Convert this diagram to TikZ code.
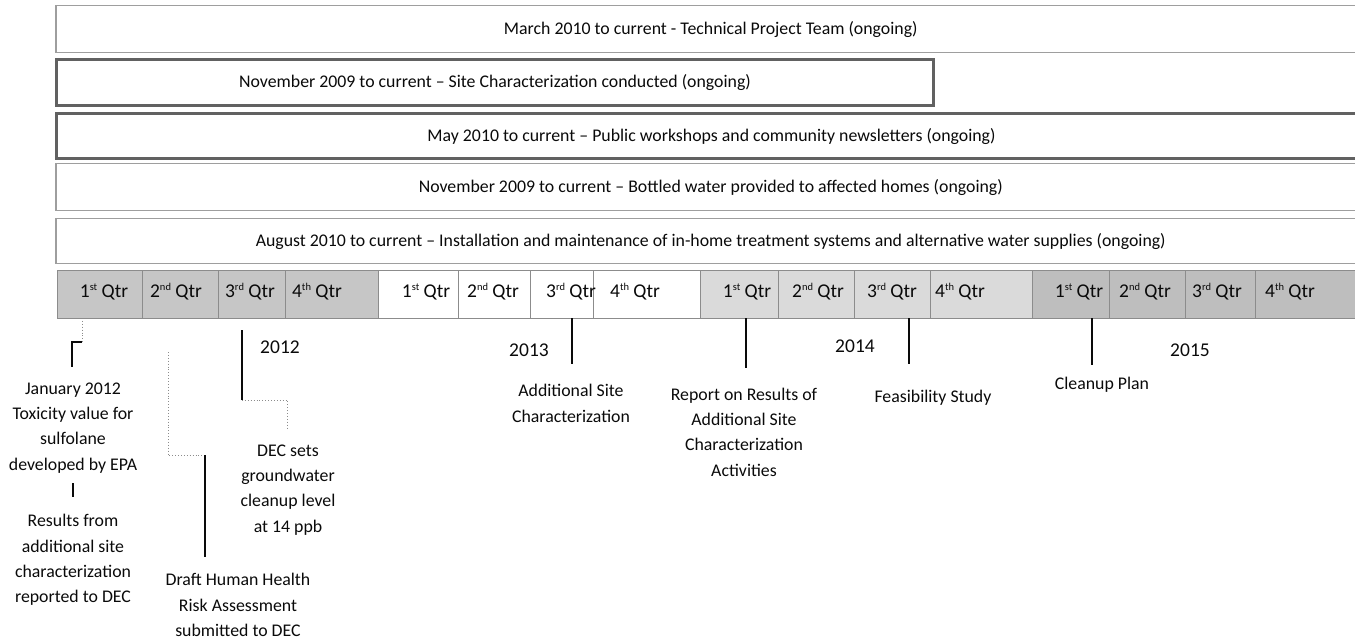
\documentclass[tikz,border=0pt]{standalone}
\usepackage{fontspec}
\setmainfont{Carlito}
\definecolor{gA}{RGB}{198,198,198}
\definecolor{gB}{RGB}{218,218,218}
\definecolor{gC}{RGB}{190,190,190}
\definecolor{ink}{RGB}{10,10,10}
\newcommand\qsup[1]{\raisebox{0.75ex}{\fontsize{10.5}{10.5}\selectfont #1}}
\begin{document}
\begin{tikzpicture}[x=1pt,y=-1pt,
  bartxt/.style={font=\fontsize{17.8}{20}\selectfont, text=ink, inner sep=0pt, anchor=north west},
  barlight/.style={bartxt, draw=black!38, line width=1.5pt, fill=white},
  barheavy/.style={bartxt, draw=black!62, line width=3pt, fill=white},
  cell/.style={draw=black!45, line width=1pt, inner sep=0pt, minimum height=48, anchor=north west},
  qlbl/.style={font=\fontsize{19.5}{22}\selectfont, text=ink, inner sep=0pt},
  yr/.style={font=\fontsize{19.5}{22}\selectfont, text=ink, inner sep=0pt},
  lbl/.style={font=\fontsize{17.8}{25.3}\selectfont, text=ink, align=center, inner sep=0pt},
  conn/.style={line width=1.1pt, draw=ink},
  heavyconn/.style={line width=2pt, draw=ink},
  dotconn/.style={line width=0.9pt, draw=black!45, dotted}
]
\useasboundingbox (0,0) rectangle (1355,639);
\clip (0,0) rectangle (1355,639);

% ongoing bars
\node[barlight, minimum width=1310, minimum height=47] (b1) at (55,5) {March 2010 to current - Technical Project Team (ongoing)};
\node[barheavy, minimum width=877, minimum height=46] (b2) at (55,58.5) {November 2009 to current -- Site Characterization conducted (ongoing)};
\node[barheavy, minimum width=1310, minimum height=45] (b3) at (55,112.5) {May 2010 to current -- Public workshops and community newsletters (ongoing)};
\node[barlight, minimum width=1310, minimum height=47] (b4) at (55,163) {November 2009 to current -- Bottled water provided to affected homes (ongoing)};
\node[barlight, minimum width=1310, minimum height=45] (b5) at (55,218) {August 2010 to current -- Installation and maintenance of in-home treatment systems and alternative water supplies (ongoing)};

% quarter cells
\node[cell, fill=gA, minimum width=85]  (c12a) at (57,270) {};
\node[cell, fill=gA, minimum width=76]  (c12b) at (142,270) {};
\node[cell, fill=gA, minimum width=67]  (c12c) at (218,270) {};
\node[cell, fill=gA, minimum width=93]  (c12d) at (285,270) {};
\node[cell, fill=white, minimum width=80]  (c13a) at (378,270) {};
\node[cell, fill=white, minimum width=72]  (c13b) at (458,270) {};
\node[cell, fill=white, minimum width=63]  (c13c) at (530,270) {};
\node[cell, fill=white, minimum width=107] (c13d) at (593,270) {};
\node[cell, fill=gB, minimum width=78]  (c14a) at (700,270) {};
\node[cell, fill=gB, minimum width=76]  (c14b) at (778,270) {};
\node[cell, fill=gB, minimum width=76]  (c14c) at (854,270) {};
\node[cell, fill=gB, minimum width=102] (c14d) at (930,270) {};
\node[cell, fill=gC, minimum width=77]  (c15a) at (1032,270) {};
\node[cell, fill=gC, minimum width=76]  (c15b) at (1109,270) {};
\node[cell, fill=gC, minimum width=70]  (c15c) at (1185,270) {};
\node[cell, fill=gC, minimum width=110] (c15d) at (1255,270) {};

% quarter labels
\node[qlbl] (t12a) at (104,292) {1\qsup{st} Qtr};
\node[qlbl] (t12b) at (176,292) {2\qsup{nd} Qtr};
\node[qlbl] (t12c) at (250,292) {3\qsup{rd} Qtr};
\node[qlbl] (t12d) at (317,292) {4\qsup{th} Qtr};
\node[qlbl] (t13a) at (426,292) {1\qsup{st} Qtr};
\node[qlbl] (t13b) at (493,292) {2\qsup{nd} Qtr};
\node[qlbl] (t13c) at (571,292) {3\qsup{rd} Qtr};
\node[qlbl] (t13d) at (635,292) {4\qsup{th} Qtr};
\node[qlbl] (t14a) at (747,292) {1\qsup{st} Qtr};
\node[qlbl] (t14b) at (818,292) {2\qsup{nd} Qtr};
\node[qlbl] (t14c) at (892,292) {3\qsup{rd} Qtr};
\node[qlbl] (t14d) at (960,292) {4\qsup{th} Qtr};
\node[qlbl] (t15a) at (1079,292) {1\qsup{st} Qtr};
\node[qlbl] (t15b) at (1145,292) {2\qsup{nd} Qtr};
\node[qlbl] (t15c) at (1217,292) {3\qsup{rd} Qtr};
\node[qlbl] (t15d) at (1290,292) {4\qsup{th} Qtr};

% years
\node[yr] (y12) at (280,347) {2012};
\node[yr] (y13) at (529,350) {2013};
\node[yr] (y14) at (855,346) {2014};
\node[yr] (y15) at (1190,350) {2015};

% milestone labels
\node[lbl] (jan) at (73,428) {January 2012\\Toxicity value for\\sulfolane\\developed by EPA};
\node[lbl] (res) at (73,560) {Results from\\additional site\\characterization\\reported to DEC};
\node[lbl] (hhra) at (238,605) {Draft Human Health\\Risk Assessment\\submitted to DEC};
\node[lbl] (dec) at (288,490) {DEC sets\\groundwater\\cleanup level\\at 14 ppb};
\node[lbl] (asc) at (571,403.5) {Additional Site\\Characterization};
\node[lbl] (rep) at (744,432) {Report on Results of\\Additional Site\\Characterization\\Activities};
\node[lbl] (fs) at (933,398) {Feasibility Study};
\node[lbl] (cp) at (1102,385) {Cleanup Plan};

% connector points
\coordinate (j0) at (82,318);
\coordinate (j1) at (82,342);
\coordinate (j2) at (72,342);
\coordinate (j3) at (72,367);
\coordinate (r0) at (73,483);
\coordinate (r1) at (73,497);
\coordinate (h0) at (168,352);
\coordinate (h1) at (168,455);
\coordinate (h2) at (205,455);
\coordinate (h3) at (205,557);
\coordinate (d0) at (242,330);
\coordinate (d1) at (242,400);
\coordinate (d2) at (287,400);
\coordinate (d3) at (287,430);
\coordinate (a0) at (572,318);
\coordinate (a1) at (572,364);
\coordinate (p0) at (746,318);
\coordinate (p1) at (746,368);
\coordinate (f0) at (909,318);
\coordinate (f1) at (909,364);
\coordinate (k0) at (1092,318);
\coordinate (k1) at (1092,365);

% connectors
\draw[dotconn] (j0) -- (j1);
\draw[conn] (j1) -- (j2) -- (j3);
\draw[conn] (r0) -- (r1);
\draw[dotconn] (h0) -- (h1) -- (h2);
\draw[conn] (h2) -- (h3);
\draw[conn] (d0) -- (d1);
\draw[dotconn] (d1) -- (d2) -- (d3);
\draw[heavyconn] (a0) -- (a1);
\draw[heavyconn] (p0) -- (p1);
\draw[heavyconn] (f0) -- (f1);
\draw[heavyconn] (k0) -- (k1);
\end{tikzpicture}
\end{document}
